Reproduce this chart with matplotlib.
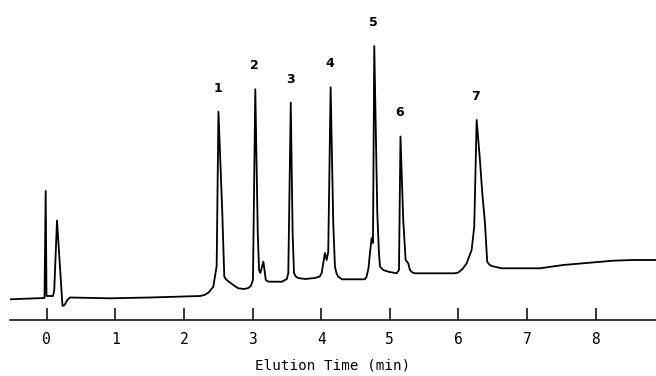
import numpy as np
import matplotlib.pyplot as plt

# trace: elution time (min) and detector response (arb.)
time_min = [-0.535, -0.032, -0.015, -0.003, 0.092, 0.110, 0.150, 0.230, 0.260,
            0.300, 0.340, 0.922, 1.505, 2.234, 2.300, 2.360, 2.428, 2.477, 2.503,
            2.559, 2.588, 2.610, 2.640, 2.700, 2.750, 2.792, 2.880, 2.938, 2.975,
            3.006, 3.040, 3.076, 3.095, 3.114, 3.158, 3.193, 3.220, 3.254, 3.429,
            3.500, 3.521, 3.557, 3.584, 3.604, 3.630, 3.666, 3.764, 3.910, 3.980,
            4.007, 4.055, 4.080, 4.103, 4.138, 4.176, 4.201, 4.225, 4.249, 4.303,
            4.638, 4.660, 4.690, 4.711, 4.736, 4.755, 4.774, 4.818, 4.840, 4.857,
            4.905, 4.978, 5.100, 5.134, 5.156, 5.196, 5.231, 5.269, 5.294, 5.330,
            5.367, 5.950, 5.998, 6.060, 6.120, 6.193, 6.231, 6.266, 6.314, 6.348,
            6.387, 6.420, 6.450, 6.484, 6.630, 7.188, 7.528, 7.917, 8.257, 8.544,
            8.880]
response = [20.7, 22, 129, 24, 24, 30, 99.5, 14, 15,
            20, 22.5, 21.7, 22.5, 24, 25, 27.5, 33.3, 54, 208.3,
            107, 43.3, 41, 39, 36, 33.5, 31.7, 31, 32, 34,
            40, 230.7, 87, 50, 47, 58.3, 40, 38.6, 38.3, 38.3,
            41, 47, 217.3, 87, 47, 43.5, 42, 41, 42, 43.5,
            47, 67, 60, 68, 232.7, 97, 53, 46.5, 43.3, 40.7,
            40.7, 43, 52, 67, 82, 77, 274, 107, 70, 53.3,
            50, 48.3, 46.7, 50, 183.5, 100, 60, 56.7, 50, 47.5,
            46.7, 46.7, 47.5, 51, 56.7, 70, 93.3, 200, 160, 127,
            97, 58.3, 55.5, 54, 51.7, 51.7, 55, 57.3, 59.3, 60,
            60]

peak_names = ["1", "2", "3", "4", "5", "6", "7"]
peak_rt = [2.503, 3.040, 3.557, 4.138, 4.774, 5.156, 6.266]

x_ticks = [0, 1, 2, 3, 4, 5, 6, 7, 8]

fig = plt.figure(figsize=(6.56, 3.76), dpi=100)
ax = fig.add_axes([10 / 656, 56 / 376, 646 / 656, 320 / 376])

ax.plot(time_min, response, color="black", lw=1.3)

for name, rt in zip(peak_names, peak_rt):
    h = np.interp(rt, time_min, response)
    ax.annotate(name, (rt, h), xytext=(-0.5, 17), textcoords="offset points",
                ha="center", va="center", fontsize=9, fontweight="bold")

ax.set_xlim(-0.535, 8.88)
ax.set_ylim(0, 320)
for side in ["left", "top", "right"]:
    ax.spines[side].set_visible(False)
ax.spines["bottom"].set_linewidth(1.1)
ax.set_yticks([])
ax.set_xticks(x_ticks)
ax.tick_params(axis="x", direction="in", length=9, width=1.1, pad=9,
               labelsize=10.5)
for lbl in ax.get_xticklabels():
    lbl.set_family("DejaVu Sans Mono")
ax.set_xlabel("Elution Time (min)", family="DejaVu Sans Mono", fontsize=10.3,
              labelpad=8)

fig.savefig("out.png", dpi=100)
